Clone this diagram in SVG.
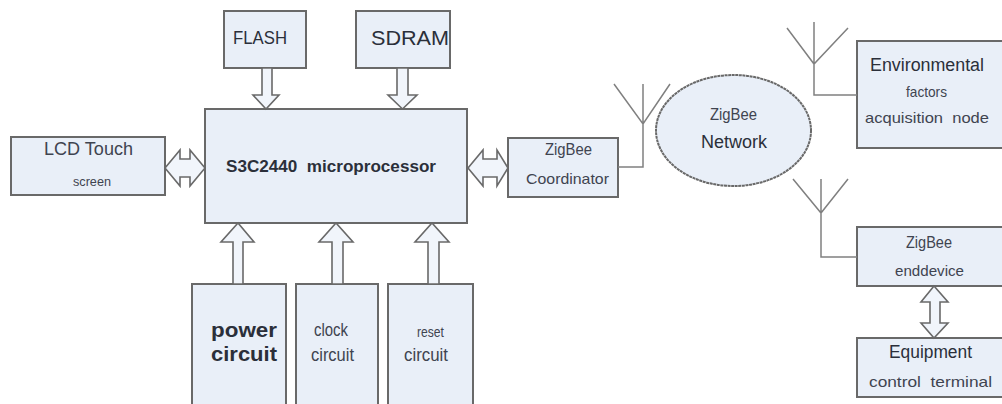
<svg xmlns="http://www.w3.org/2000/svg" width="1002" height="404" viewBox="0 0 1002 404">
<style>
.b{fill:#e9eff8;stroke:#696969;stroke-width:2}
.a{fill:#f1f5fb;stroke:#696969;stroke-width:1.6;stroke-linejoin:miter}
.w{fill:none;stroke:#808080;stroke-width:1.5}
text{font-family:"Liberation Sans",Arial,sans-serif;fill:#3f4450}
.k{fill:#2b2f3a}
</style>
<rect width="1002" height="404" fill="#ffffff"/>
<g id="flash"><path class="b" d="M224 68V11H306V68Z"/><text class="k" x="233" y="44" font-size="18" textLength="54" lengthAdjust="spacingAndGlyphs">FLASH</text></g>
<g id="sdram"><path class="b" d="M356 68V11H450V68Z"/><text class="k" x="371" y="45" font-size="21" textLength="78" lengthAdjust="spacingAndGlyphs">SDRAM</text></g>
<g id="cpu"><rect class="b" x="205" y="109" width="262" height="114"/><text class="k" x="226" y="172" font-size="17" font-weight="bold" textLength="210" lengthAdjust="spacingAndGlyphs" xml:space="preserve">S3C2440  microprocessor</text></g>
<g id="lcd"><rect class="b" x="11" y="137" width="154" height="58"/><text x="44" y="155" font-size="18" textLength="89" lengthAdjust="spacingAndGlyphs">LCD Touch</text><text x="73" y="186" font-size="13" textLength="38" lengthAdjust="spacingAndGlyphs">screen</text></g>
<g id="power"><path class="b" d="M192 404V284H286V404"/><text class="k" x="211" y="337" font-size="20" font-weight="bold" textLength="66" lengthAdjust="spacingAndGlyphs">power</text><text class="k" x="211" y="361" font-size="20" font-weight="bold" textLength="66" lengthAdjust="spacingAndGlyphs">circuit</text></g>
<g id="clock"><path class="b" d="M296 404V284H378V404"/><text x="314" y="336" font-size="18" textLength="34" lengthAdjust="spacingAndGlyphs">clock</text><text x="311" y="361" font-size="18" textLength="43" lengthAdjust="spacingAndGlyphs">circuit</text></g>
<g id="reset"><path class="b" d="M388 404V284H473V404"/><text x="417" y="337" font-size="15" textLength="27" lengthAdjust="spacingAndGlyphs">reset</text><text x="404" y="361" font-size="18" textLength="44" lengthAdjust="spacingAndGlyphs">circuit</text></g>
<g id="coordinator"><rect class="b" x="508" y="138" width="110" height="59"/><text x="545" y="155" font-size="16" textLength="47" lengthAdjust="spacingAndGlyphs">ZigBee</text><text x="526" y="184" font-size="15" textLength="83" lengthAdjust="spacingAndGlyphs">Coordinator</text></g>
<g id="network"><ellipse class="b" cx="733.5" cy="130.5" rx="77.5" ry="55.5" stroke-dasharray="3 0.6"/><text x="710" y="120" font-size="17" textLength="47" lengthAdjust="spacingAndGlyphs">ZigBee</text><text class="k" x="701" y="148" font-size="18" textLength="66" lengthAdjust="spacingAndGlyphs">Network</text></g>
<g id="environment"><path class="b" d="M1002 41H857V148H1002"/><text class="k" x="870" y="71" font-size="18" textLength="114" lengthAdjust="spacingAndGlyphs">Environmental</text><text x="906" y="97" font-size="15" textLength="41" lengthAdjust="spacingAndGlyphs">factors</text><text x="865" y="123" font-size="15" textLength="124" lengthAdjust="spacingAndGlyphs" xml:space="preserve">acquisition  node</text></g>
<g id="enddevice"><path class="b" d="M1002 227H857V286H1002"/><text x="906" y="248" font-size="16" textLength="46" lengthAdjust="spacingAndGlyphs">ZigBee</text><text x="895" y="276" font-size="15" textLength="69" lengthAdjust="spacingAndGlyphs">enddevice</text></g>
<g id="equipment"><path class="b" d="M1002 338H857V397H1002"/><text class="k" x="889" y="358" font-size="18" textLength="83" lengthAdjust="spacingAndGlyphs">Equipment</text><text x="869" y="387" font-size="15" textLength="123" lengthAdjust="spacingAndGlyphs" xml:space="preserve">control  terminal</text></g>
<g id="connectors">
<path class="a" d="M262 68V95H253L266 109L279 95H272V68Z"/>
<path class="a" d="M397 68V95H388L402.5 109L417 95H408V68Z"/>
<path class="a" d="M165 168L180 150V159H190V150L205 168L190 186V177H180V186Z"/>
<path class="a" d="M468 168L483 150V159H497V150L508 168L497 186V177H483V186Z"/>
<path class="a" d="M233 284V242H221L238 223L254 242H243V284Z"/>
<path class="a" d="M332 284V242H319L336 223L353 242H343V284Z"/>
<path class="a" d="M428 284V242H415L432 223L449 242H439V284Z"/>
<path class="a" d="M934 286L948 302H940V323H948L934 338L921 323H930V302H921Z"/>
<path class="w" d="M618 167H643V84M614 84L643 124L670 84"/>
<path class="w" d="M857 95H814V22M787 28L814 64L848 28"/>
<path class="w" d="M857 257H821V179M793 179L821 213L848 179"/>
</g>
</svg>
